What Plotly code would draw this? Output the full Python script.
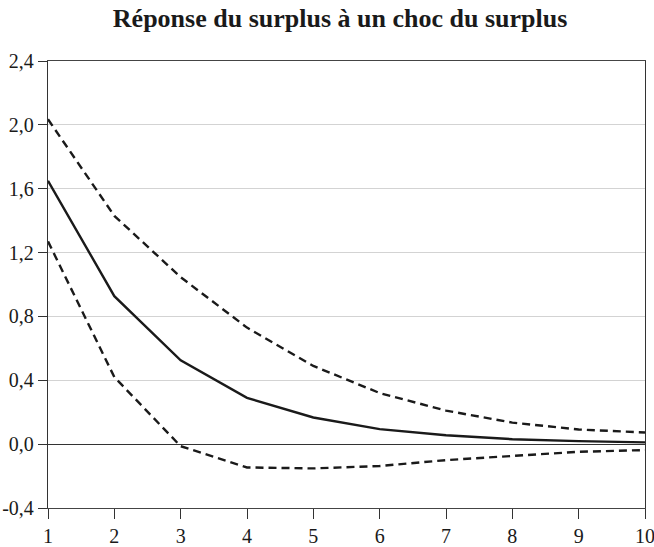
import plotly.graph_objects as go

periods = [1, 2, 3, 4, 5, 6, 7, 8, 9, 10]
response = [1.65, 0.927, 0.525, 0.29, 0.167, 0.094, 0.056, 0.031, 0.019, 0.011]
upper_band = [2.035, 1.43, 1.046, 0.73, 0.49, 0.32, 0.21, 0.135, 0.092, 0.073]
lower_band = [1.27, 0.42, -0.013, -0.146, -0.152, -0.137, -0.10, -0.075, -0.048, -0.037]

y_tick_vals = [-0.4, 0.0, 0.4, 0.8, 1.2, 1.6, 2.0, 2.4]
y_tick_text = ["-0,4", "0,0", "0,4", "0,8", "1,2", "1,6", "2,0", "2,4"]
title_text = "Réponse du surplus à un choc du surplus"

fig = go.Figure()
fig.add_trace(go.Scatter(x=periods, y=upper_band, mode="lines",
                         line=dict(color="#1a1a1a", width=2.4, dash="8px,5px"),
                         showlegend=False, hoverinfo="skip"))
fig.add_trace(go.Scatter(x=periods, y=lower_band, mode="lines",
                         line=dict(color="#1a1a1a", width=2.4, dash="8px,5px"),
                         showlegend=False, hoverinfo="skip"))
fig.add_trace(go.Scatter(x=periods, y=response, mode="lines",
                         line=dict(color="#1a1a1a", width=2.4),
                         showlegend=False))

font_family = "Liberation Serif, Times New Roman, serif"
fig.update_layout(
    width=654, height=547,
    margin=dict(l=48, r=9, t=61, b=39),
    paper_bgcolor="white", plot_bgcolor="white",
    title=dict(text="<b>" + title_text + "</b>", x=0.52, xref="container", xanchor="center",
               y=0.968, yref="container", yanchor="middle",
               font=dict(family=font_family, size=26, color="#1a1a1a")),
    font=dict(family=font_family, size=20, color="#1a1a1a"),
    xaxis=dict(range=[1, 10], tickvals=periods, ticktext=[str(p) for p in periods],
               automargin=False, ticklabeloverflow="allow",
               showgrid=False, zeroline=False, showline=True, linecolor="#444444",
               linewidth=1.3, mirror=True, ticks="outside", ticklen=10, tickwidth=1.3,
               tickcolor="#333333", tickfont=dict(size=20)),
    yaxis=dict(range=[-0.4, 2.4], tickvals=y_tick_vals, ticktext=y_tick_text,
               automargin=False, ticklabeloverflow="allow",
               showgrid=True, gridcolor="#d3d3d3", gridwidth=1,
               zeroline=True, zerolinecolor="#333333", zerolinewidth=1.3,
               showline=True, linecolor="#333333", linewidth=1.3, mirror=True,
               ticks="outside", ticklen=9, tickwidth=1.3, tickcolor="#333333",
               tickfont=dict(size=20)),
)

fig.write_html("out.html", config={"displayModeBar": False},
               post_script="document.body.style.margin='0';")
